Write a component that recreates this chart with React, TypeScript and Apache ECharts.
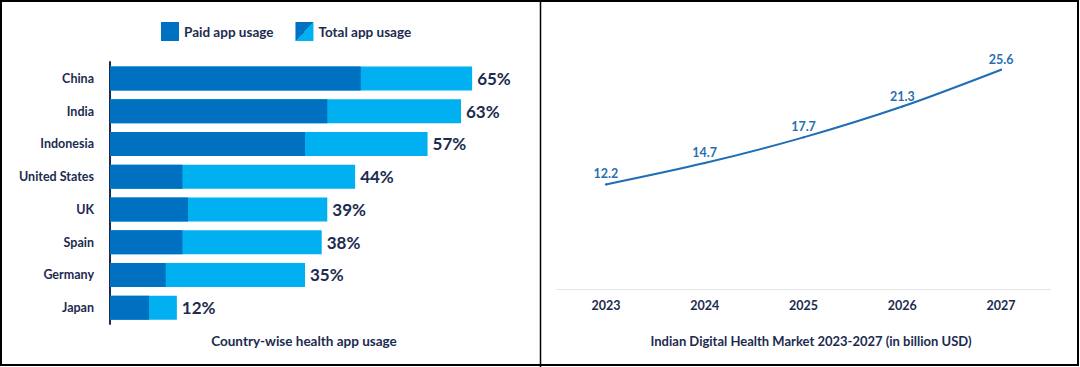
import React, { useEffect, useRef } from "react";
import * as echarts from "echarts";

const countries = ["China", "India", "Indonesia", "United States", "UK", "Spain", "Germany", "Japan"];
const totalUsage = [65, 63, 57, 44, 39, 38, 35, 12];
const paidUsage = [45, 39, 35, 13, 14, 13, 10, 7];
const years = ["2023", "2024", "2025", "2026", "2027"];
const marketValues = [12.2, 14.7, 17.7, 21.3, 25.6];

const NAVY = "#1c2b4f";
const DARK = "#0070c0";
const LIGHT = "#00b0f0";
const LINE = "#1f6db5";
const FONT = "Lato";

export default function App() {
  const ref = useRef<HTMLDivElement>(null);
  useEffect(() => {
    document.body.style.margin = "0";
    const chart = echarts.init(ref.current!, null, { renderer: "svg" });
    const diag = new echarts.graphic.LinearGradient(0, 0, 1, 1, [
      { offset: 0, color: DARK },
      { offset: 0.5, color: DARK },
      { offset: 0.5, color: LIGHT },
      { offset: 1, color: LIGHT },
    ]);
    chart.setOption({
      animation: false,
      backgroundColor: "#ffffff",
      textStyle: { fontFamily: FONT },
      legend: {
        left: 156,
        top: 17,
        itemWidth: 18,
        itemHeight: 19,
        itemGap: 22,
        icon: "rect",
        textStyle: { color: NAVY, fontSize: 13.5, fontWeight: "bold", fontFamily: FONT },
        data: [
          { name: "Paid app usage", itemStyle: { color: DARK } },
          { name: "Total app usage", itemStyle: { color: diag } },
        ],
      },
      grid: [
        { left: 110, top: 62, width: 390, height: 262 },
        { left: 556.5, top: 32, width: 494, height: 257 },
      ],
      xAxis: [
        {
          gridIndex: 0,
          type: "value",
          min: 0,
          max: 70,
          show: false,
        },
        {
          gridIndex: 1,
          type: "category",
          data: years,
          boundaryGap: true,
          axisLine: { lineStyle: { color: "#e6e6e6", width: 1 } },
          axisTick: { show: false },
          axisLabel: { color: NAVY, fontSize: 12.5, fontWeight: "bold", margin: 10, fontFamily: FONT },
        },
      ],
      yAxis: [
        {
          gridIndex: 0,
          type: "category",
          data: countries,
          inverse: true,
          axisLine: { show: true, lineStyle: { color: NAVY, width: 2 } },
          axisTick: { show: false },
          axisLabel: { color: NAVY, fontSize: 12.5, fontWeight: "bold", margin: 16, fontFamily: FONT },
        },
        {
          gridIndex: 1,
          type: "value",
          min: 0,
          max: 30,
          show: false,
          splitLine: { show: false },
        },
      ],
      series: [
        {
          name: "Total app usage",
          type: "bar",
          xAxisIndex: 0,
          yAxisIndex: 0,
          data: totalUsage,
          barWidth: 24,
          barGap: "-100%",
          itemStyle: { color: LIGHT },
          label: {
            show: true,
            position: "right",
            distance: 5,
            formatter: "{c}%",
            color: NAVY,
            fontSize: 17,
            fontWeight: "bold",
            fontFamily: FONT,
          },
          z: 1,
        },
        {
          name: "Paid app usage",
          type: "bar",
          xAxisIndex: 0,
          yAxisIndex: 0,
          data: paidUsage,
          barWidth: 24,
          barGap: "-100%",
          itemStyle: { color: DARK },
          z: 2,
        },
        {
          name: "Market",
          type: "line",
          xAxisIndex: 1,
          yAxisIndex: 1,
          data: marketValues,
          smooth: 0.3,
          showSymbol: true,
          symbol: "circle",
          symbolSize: 2,
          itemStyle: { color: LINE },
          lineStyle: { color: LINE, width: 2 },
          label: {
            show: true,
            position: "top",
            distance: 3,
            color: "#2a6fb0",
            fontSize: 12.5,
            fontWeight: "bold",
            fontFamily: FONT,
          },
        },
      ],
      graphic: [
        {
          type: "rect",
          shape: { x: 1, y: 1, width: 1077, height: 364 },
          style: { fill: "none", stroke: "#000", lineWidth: 2 },
          silent: true,
          z: 100,
        },
        {
          type: "line",
          shape: { x1: 540.5, y1: 0, x2: 540.5, y2: 367 },
          style: { stroke: "#000", lineWidth: 1.5 },
          silent: true,
          z: 100,
        },
        {
          type: "text",
          x: 304,
          y: 341,
          style: {
            text: "Country-wise health app usage",
            fill: NAVY,
            fontSize: 13.5,
            fontWeight: "bold",
            fontFamily: FONT,
            textAlign: "center",
            textVerticalAlign: "middle",
          },
        },
        {
          type: "text",
          x: 811,
          y: 341,
          style: {
            text: "Indian Digital Health Market 2023-2027 (in billion USD)",
            fill: NAVY,
            fontSize: 13,
            fontWeight: "bold",
            fontFamily: FONT,
            textAlign: "center",
            textVerticalAlign: "middle",
          },
        },
      ],
    });
    return () => chart.dispose();
  }, []);
  return <div ref={ref} style={{ position: "absolute", left: 0, top: 0, width: 1080, height: 367 }} />;
}
